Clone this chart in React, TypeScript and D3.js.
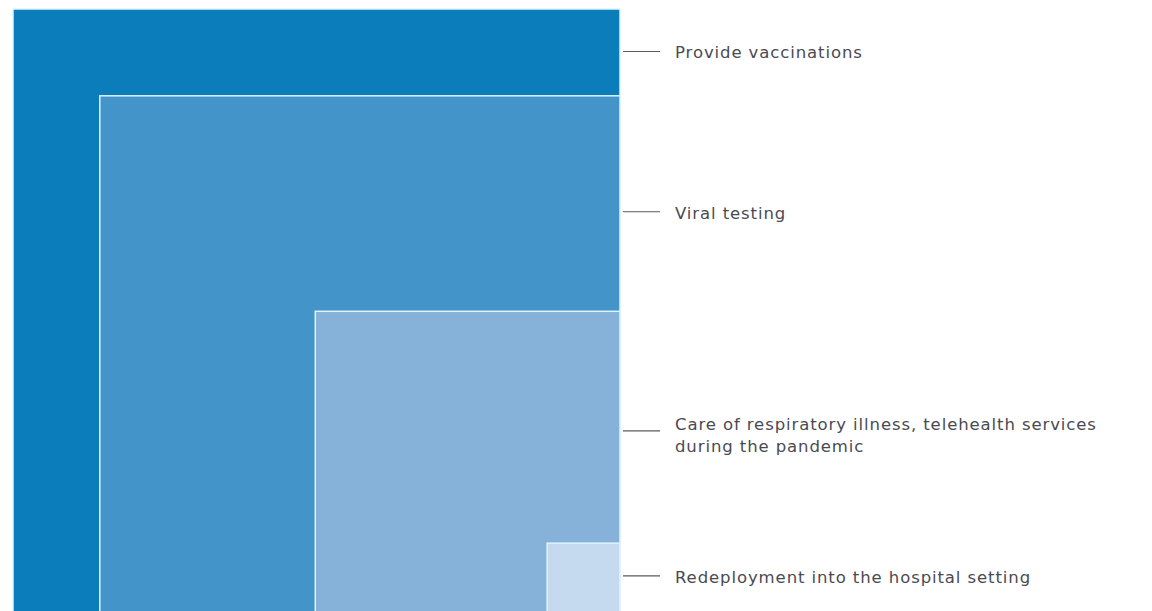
import React from "react";
import * as d3 from "d3";

const categories = [
  "Provide vaccinations",
  "Viral testing",
  "Care of respiratory illness, telehealth services|during the pandemic",
  "Redeployment into the hospital setting",
];
const values = [100, 85.7, 50.2, 12];
const labelAt = [93, 66.6, 30.5, 6.6];
const colors = ["#0a7dba", "#4394c8", "#86b2d9", "#c6daef"];

const W = 1152;
const H = 611;
const RIGHT = 620;
const BOTTOM = 616;

export default function App() {
  const size = d3.scaleLinear().domain([0, 100]).range([0, 607]);
  const items = values.map((v, i) => ({
    v,
    label: categories[i].split("|"),
    color: colors[i],
    s: size(v),
    at: labelAt[i],
  }));
  return (
    <svg
      width={W}
      height={H}
      style={{ position: "absolute", left: 0, top: 0, background: "#fff" }}
    >
      {items.map((d, i) => (
        <rect
          key={i}
          x={RIGHT - d.s}
          y={BOTTOM - d.s}
          width={d.s}
          height={d.s}
          fill={d.color}
          stroke="#dff3ff"
          strokeWidth={1.5}
        />
      ))}
      {items.map((d, i) => {
        const ly = BOTTOM - size(d.at);
        const lines = d.label;
        const off = lines.length > 1 ? 7 : -1;
        return (
          <g key={"l" + i}>
            <line x1={623} x2={660} y1={ly} y2={ly} stroke="#5a5a5a" strokeWidth={1.2} />
            <text
              x={675}
              y={ly - off}
              fill="#4a4a52"
              fontFamily="DejaVu Sans, sans-serif"
              fontSize={16.5}
              letterSpacing={0.9}
              dominantBaseline="central"
            >
              {lines.map((t, j) => (
                <tspan key={j} x={675} dy={j === 0 ? 0 : 22}>
                  {t}
                </tspan>
              ))}
            </text>
          </g>
        );
      })}
    </svg>
  );
}
